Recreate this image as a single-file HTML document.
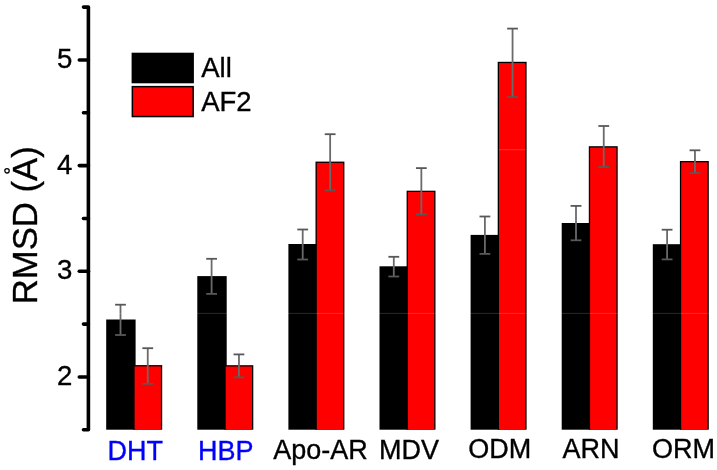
<!DOCTYPE html><html><head><meta charset="utf-8"><style>html,body{margin:0;padding:0;background:#fff;}svg{display:block;will-change:transform;}text{font-family:"Liberation Sans",sans-serif;}</style></head><body>
<svg width="717" height="470" viewBox="0 0 717 470">
<rect x="0" y="0" width="717" height="470" fill="#fff"/>
<rect x="106.20" y="319.50" width="29.4" height="110.20" fill="#000"/>
<rect x="133.30" y="365.10" width="28.9" height="64.60" fill="#000"/>
<rect x="134.60" y="366.40" width="26.3" height="63.30" fill="#ff0000"/>
<line x1="120.50" y1="304.70" x2="120.50" y2="335.00" stroke="#6a6a6a" stroke-width="1.8"/>
<line x1="115.10" y1="304.70" x2="125.90" y2="304.70" stroke="#585858" stroke-width="1.8"/>
<line x1="115.10" y1="335.00" x2="125.90" y2="335.00" stroke="#585858" stroke-width="1.8"/>
<line x1="147.75" y1="348.20" x2="147.75" y2="383.80" stroke="#6a6a6a" stroke-width="1.8"/>
<line x1="142.35" y1="348.20" x2="153.15" y2="348.20" stroke="#585858" stroke-width="1.8"/>
<line x1="142.35" y1="383.80" x2="153.15" y2="383.80" stroke="#585858" stroke-width="1.8"/>
<text x="135.25" y="459.90" font-size="27" fill="#0000ff" stroke="#0000ff" stroke-width="0.35" text-anchor="middle">DHT</text>
<rect x="197.30" y="276.10" width="29.4" height="153.60" fill="#000"/>
<rect x="224.40" y="365.20" width="28.9" height="64.50" fill="#000"/>
<rect x="225.70" y="366.50" width="26.3" height="63.20" fill="#ff0000"/>
<line x1="211.60" y1="258.80" x2="211.60" y2="293.90" stroke="#6a6a6a" stroke-width="1.8"/>
<line x1="206.20" y1="258.80" x2="217.00" y2="258.80" stroke="#585858" stroke-width="1.8"/>
<line x1="206.20" y1="293.90" x2="217.00" y2="293.90" stroke="#585858" stroke-width="1.8"/>
<line x1="238.95" y1="354.40" x2="238.95" y2="377.30" stroke="#6a6a6a" stroke-width="1.8"/>
<line x1="233.55" y1="354.40" x2="244.35" y2="354.40" stroke="#585858" stroke-width="1.8"/>
<line x1="233.55" y1="377.30" x2="244.35" y2="377.30" stroke="#585858" stroke-width="1.8"/>
<text x="225.80" y="459.50" font-size="27" fill="#0000ff" stroke="#0000ff" stroke-width="0.35" text-anchor="middle">HBP</text>
<rect x="288.40" y="244.00" width="29.4" height="185.70" fill="#000"/>
<rect x="315.50" y="161.60" width="28.9" height="268.10" fill="#000"/>
<rect x="316.80" y="162.90" width="26.3" height="266.80" fill="#ff0000"/>
<line x1="302.70" y1="229.50" x2="302.70" y2="259.50" stroke="#6a6a6a" stroke-width="1.8"/>
<line x1="297.30" y1="229.50" x2="308.10" y2="229.50" stroke="#585858" stroke-width="1.8"/>
<line x1="297.30" y1="259.50" x2="308.10" y2="259.50" stroke="#585858" stroke-width="1.8"/>
<line x1="330.15" y1="134.20" x2="330.15" y2="190.40" stroke="#6a6a6a" stroke-width="1.8"/>
<line x1="324.75" y1="134.20" x2="335.55" y2="134.20" stroke="#585858" stroke-width="1.8"/>
<line x1="324.75" y1="190.40" x2="335.55" y2="190.40" stroke="#585858" stroke-width="1.8"/>
<text x="320.60" y="459.10" font-size="27" fill="#000" stroke="#000" stroke-width="0.35" text-anchor="middle">Apo-AR</text>
<rect x="379.50" y="266.30" width="29.4" height="163.40" fill="#000"/>
<rect x="406.60" y="190.70" width="28.9" height="239.00" fill="#000"/>
<rect x="407.90" y="192.00" width="26.3" height="237.70" fill="#ff0000"/>
<line x1="393.80" y1="256.80" x2="393.80" y2="276.50" stroke="#6a6a6a" stroke-width="1.8"/>
<line x1="388.40" y1="256.80" x2="399.20" y2="256.80" stroke="#585858" stroke-width="1.8"/>
<line x1="388.40" y1="276.50" x2="399.20" y2="276.50" stroke="#585858" stroke-width="1.8"/>
<line x1="421.35" y1="168.10" x2="421.35" y2="214.40" stroke="#6a6a6a" stroke-width="1.8"/>
<line x1="415.95" y1="168.10" x2="426.75" y2="168.10" stroke="#585858" stroke-width="1.8"/>
<line x1="415.95" y1="214.40" x2="426.75" y2="214.40" stroke="#585858" stroke-width="1.8"/>
<text x="408.90" y="458.70" font-size="27" fill="#000" stroke="#000" stroke-width="0.35" text-anchor="middle">MDV</text>
<rect x="470.60" y="234.90" width="29.4" height="194.80" fill="#000"/>
<rect x="497.70" y="61.80" width="28.9" height="367.90" fill="#000"/>
<rect x="499.00" y="63.10" width="26.3" height="366.60" fill="#ff0000"/>
<line x1="484.90" y1="216.50" x2="484.90" y2="253.90" stroke="#6a6a6a" stroke-width="1.8"/>
<line x1="479.50" y1="216.50" x2="490.30" y2="216.50" stroke="#585858" stroke-width="1.8"/>
<line x1="479.50" y1="253.90" x2="490.30" y2="253.90" stroke="#585858" stroke-width="1.8"/>
<line x1="512.55" y1="28.60" x2="512.55" y2="97.00" stroke="#6a6a6a" stroke-width="1.8"/>
<line x1="507.15" y1="28.60" x2="517.95" y2="28.60" stroke="#585858" stroke-width="1.8"/>
<line x1="507.15" y1="97.00" x2="517.95" y2="97.00" stroke="#585858" stroke-width="1.8"/>
<text x="499.80" y="458.30" font-size="27" fill="#000" stroke="#000" stroke-width="0.35" text-anchor="middle">ODM</text>
<rect x="561.70" y="223.00" width="29.4" height="206.70" fill="#000"/>
<rect x="588.80" y="146.20" width="28.9" height="283.50" fill="#000"/>
<rect x="590.10" y="147.50" width="26.3" height="282.20" fill="#ff0000"/>
<line x1="576.00" y1="205.90" x2="576.00" y2="240.30" stroke="#6a6a6a" stroke-width="1.8"/>
<line x1="570.60" y1="205.90" x2="581.40" y2="205.90" stroke="#585858" stroke-width="1.8"/>
<line x1="570.60" y1="240.30" x2="581.40" y2="240.30" stroke="#585858" stroke-width="1.8"/>
<line x1="603.75" y1="126.00" x2="603.75" y2="167.00" stroke="#6a6a6a" stroke-width="1.8"/>
<line x1="598.35" y1="126.00" x2="609.15" y2="126.00" stroke="#585858" stroke-width="1.8"/>
<line x1="598.35" y1="167.00" x2="609.15" y2="167.00" stroke="#585858" stroke-width="1.8"/>
<text x="590.90" y="457.90" font-size="27" fill="#000" stroke="#000" stroke-width="0.35" text-anchor="middle">ARN</text>
<rect x="652.80" y="244.20" width="29.4" height="185.50" fill="#000"/>
<rect x="679.90" y="161.00" width="28.9" height="268.70" fill="#000"/>
<rect x="681.20" y="162.30" width="26.3" height="267.40" fill="#ff0000"/>
<line x1="667.10" y1="229.70" x2="667.10" y2="259.40" stroke="#6a6a6a" stroke-width="1.8"/>
<line x1="661.70" y1="229.70" x2="672.50" y2="229.70" stroke="#585858" stroke-width="1.8"/>
<line x1="661.70" y1="259.40" x2="672.50" y2="259.40" stroke="#585858" stroke-width="1.8"/>
<line x1="694.95" y1="150.30" x2="694.95" y2="173.10" stroke="#6a6a6a" stroke-width="1.8"/>
<line x1="689.55" y1="150.30" x2="700.35" y2="150.30" stroke="#585858" stroke-width="1.8"/>
<line x1="689.55" y1="173.10" x2="700.35" y2="173.10" stroke="#585858" stroke-width="1.8"/>
<text x="683.50" y="457.50" font-size="27" fill="#000" stroke="#000" stroke-width="0.35" text-anchor="middle">ORM</text>
<line x1="88.4" y1="7.1" x2="88.4" y2="429.8" stroke="#000" stroke-width="3.6" stroke-linecap="butt"/>
<line x1="83.5" y1="429.80" x2="88.4" y2="429.80" stroke="#000" stroke-width="3.6" stroke-linecap="round"/>
<line x1="83.5" y1="324.12" x2="88.4" y2="324.12" stroke="#000" stroke-width="3.6" stroke-linecap="round"/>
<line x1="83.5" y1="218.45" x2="88.4" y2="218.45" stroke="#000" stroke-width="3.6" stroke-linecap="round"/>
<line x1="83.5" y1="112.78" x2="88.4" y2="112.78" stroke="#000" stroke-width="3.6" stroke-linecap="round"/>
<line x1="83.5" y1="7.10" x2="88.4" y2="7.10" stroke="#000" stroke-width="3.6" stroke-linecap="round"/>
<line x1="79.3" y1="376.96" x2="88.4" y2="376.96" stroke="#000" stroke-width="3.6" stroke-linecap="round"/>
<text x="72.3" y="385.16" font-size="27.6" text-anchor="end" fill="#000" stroke="#000" stroke-width="0.35">2</text>
<line x1="79.3" y1="271.29" x2="88.4" y2="271.29" stroke="#000" stroke-width="3.6" stroke-linecap="round"/>
<text x="72.3" y="279.49" font-size="27.6" text-anchor="end" fill="#000" stroke="#000" stroke-width="0.35">3</text>
<line x1="79.3" y1="165.61" x2="88.4" y2="165.61" stroke="#000" stroke-width="3.6" stroke-linecap="round"/>
<text x="72.3" y="173.81" font-size="27.6" text-anchor="end" fill="#000" stroke="#000" stroke-width="0.35">4</text>
<line x1="79.3" y1="59.94" x2="88.4" y2="59.94" stroke="#000" stroke-width="3.6" stroke-linecap="round"/>
<text x="72.3" y="68.14" font-size="27.6" text-anchor="end" fill="#000" stroke="#000" stroke-width="0.35">5</text>
<text transform="translate(37.4,304.3) rotate(-90)" x="0" y="0" font-size="34.7" fill="#000" stroke="#000" stroke-width="0.35">RMSD (A)</text>
<circle cx="7.0" cy="170.8" r="2.2" fill="none" stroke="#000" stroke-width="1.3"/>
<rect x="100" y="312.9" width="617" height="1" fill="#fff" fill-opacity="0.16"/>
<rect x="499" y="149.2" width="27" height="1" fill="#fff" fill-opacity="0.18"/>
<rect x="131.6" y="52.7" width="62.3" height="30.6" fill="#000"/>
<rect x="132.35" y="86.65" width="60.8" height="29.9" fill="#ff0000" stroke="#000" stroke-width="1.5"/>
<text x="201.2" y="76.8" font-size="27.5" fill="#000" stroke="#000" stroke-width="0.35">All</text>
<text x="201.2" y="110.6" font-size="27.5" fill="#000" stroke="#000" stroke-width="0.35">AF2</text>
</svg></body></html>
